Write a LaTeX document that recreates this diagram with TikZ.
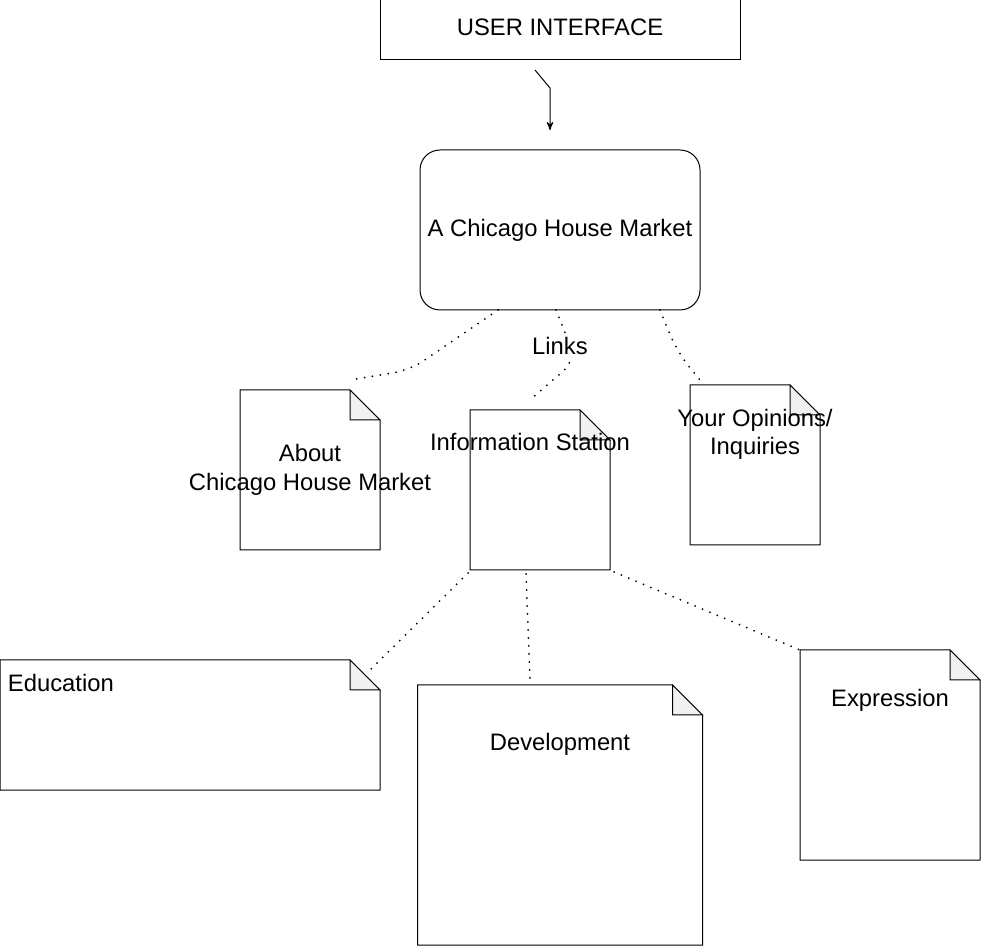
\documentclass[tikz,border=0pt]{standalone}
\usepackage{fontspec}
\setmainfont{Liberation Sans}
\usetikzlibrary{arrows}
\usetikzlibrary{calc}
\usepackage{xcolor}
\definecolor{foldgray}{HTML}{F1F1F1}

\begin{document}
\begin{tikzpicture}[x=.5pt,y=-.5pt, line width=.5pt,
  every node/.style={font=\fontsize{11.9}{14.2}\selectfont, inner sep=0pt, outer sep=0pt},
  notebox/.style={minimum width=#1},
  dots/.style={line width=1pt, line cap=round, dash pattern=on 0pt off 4pt}]
\useasboundingbox (0,0) rectangle (981,946);
\node[draw, minimum width=180pt, minimum height=30pt, text depth=2.5pt] (ui) at (560,30) {USER INTERFACE};
\node[draw, rounded corners=10pt, minimum width=140pt, minimum height=80pt] (hub) at (560,230) {A Chicago House Market};
\node[notebox=70pt, minimum height=80pt] (about) at (310,470) {};
\node[notebox=70pt, minimum height=80pt] (info) at (540,490) {};
\node[notebox=65pt, minimum height=80pt] (opin) at (755,465) {};
\node[notebox=190pt, minimum height=65pt] (edu) at (190,725) {};
\node[notebox=142.5pt, minimum height=130pt] (dev) at (560,815) {};
\node[notebox=90pt, minimum height=105pt] (expr) at (890,755) {};
\foreach \n in {about,info,opin,edu,dev,expr} {
\draw (\n.south west) -- (\n.north west) -- ([xshift=-15pt]\n.north east) -- ([yshift=-15pt]\n.north east) -- (\n.south east) -- cycle;
\draw[fill=foldgray] ([xshift=-15pt]\n.north east) |- ([yshift=-15pt]\n.north east) -- cycle;
}
\node[align=center] (aboutt) at (about.center) {About\\Chicago House Market};
\node[anchor=base] (infot) at ([xshift=-5pt,yshift=-20.5pt]info.north) {Information Station};
\node[align=center] (opint) at ([yshift=-24.75pt]opin.north) {Your Opinions/\\Inquiries};
\node[anchor=base west] (edut) at ([xshift=4pt,yshift=-15.5pt]edu.north west) {Education};
\node[anchor=base] (devt) at ([yshift=-33pt]dev.north) {Development};
\node[anchor=base] (exprt) at ([yshift=-28pt]expr.north) {Expression};
\draw[->, >=stealth'] ([xshift=-12.5pt,yshift=-5pt]ui.south) -- ([xshift=-5pt,yshift=-14pt]ui.south) -- ([xshift=-5pt,yshift=10pt]hub.north);
\draw[dots, rounded corners=8pt] ([xshift=39pt]hub.south west) -- (410,370) -- ([xshift=-15pt,yshift=5pt]about.north east);
\draw[dots, rounded corners=8pt] ([xshift=-2pt]hub.south) -- (576,360) -- ([xshift=-5pt,yshift=5pt]info.north);
\node[fill=white, inner sep=1pt, anchor=base] (links) at (560,355) {Links};
\draw[dots, rounded corners=10pt] ([xshift=-20pt]hub.south east) -- (677,352) -- ([xshift=5pt,yshift=2.5pt]opin.north west);
\draw[dots] ([xshift=-1pt,yshift=-1.5pt]info.south west) -- ([xshift=-5.5pt,yshift=-5.5pt]edu.north east);
\draw[dots] ([xshift=-7pt,yshift=-2pt]info.south) -- ([xshift=-15pt,yshift=2.5pt]dev.north);
\draw[dots] ([xshift=2pt,yshift=-1pt]info.south east) -- (expr.north west);
\end{tikzpicture}
\end{document}
